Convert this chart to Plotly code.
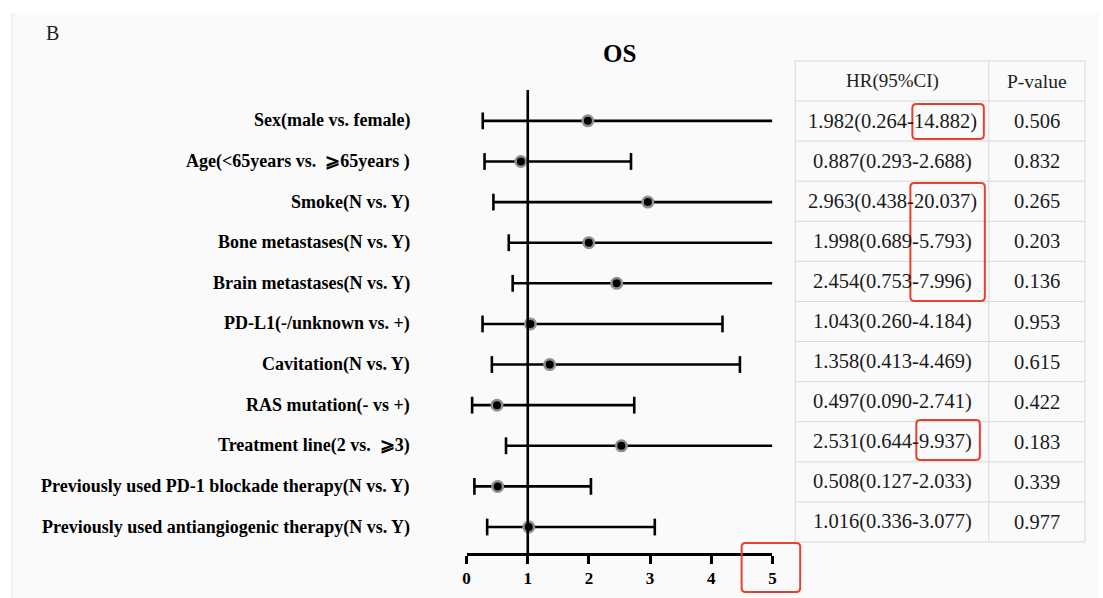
import plotly.graph_objects as go

# ---------------- data ----------------
labels = [
    "Sex(male vs. female)",
    "Age(<65years vs.  ⩾65years )",
    "Smoke(N vs. Y)",
    "Bone metastases(N vs. Y)",
    "Brain metastases(N vs. Y)",
    "PD-L1(-/unknown vs. +)",
    "Cavitation(N vs. Y)",
    "RAS mutation(- vs +)",
    "Treatment line(2 vs.  ⩾3)",
    "Previously used PD-1 blockade therapy(N vs. Y)",
    "Previously used antiangiogenic therapy(N vs. Y)",
]
hr = [1.982, 0.887, 2.963, 1.998, 2.454, 1.043, 1.358, 0.497, 2.531, 0.508, 1.016]
ci_low = [0.264, 0.293, 0.438, 0.689, 0.753, 0.260, 0.413, 0.090, 0.644, 0.127, 0.336]
ci_high = [14.882, 2.688, 20.037, 5.793, 7.996, 4.184, 4.469, 2.741, 9.937, 2.033, 3.077]
p_values = ["0.506", "0.832", "0.265", "0.203", "0.136", "0.953", "0.615", "0.422", "0.183", "0.339", "0.977"]
x_ticks = [0, 1, 2, 3, 4, 5]
title = "OS"
panel = "B"
table_headers = ["HR(95%CI)", "P-value"]

# ---------------- layout helpers ----------------
W, H = 1103, 598
XMAX = 5
SERIF = "Liberation Serif, Times New Roman, serif"


def px(x):
    return x / W


def py(y):
    return 1 - y / H


n = len(labels)
rows = list(range(n))

fig = go.Figure()

# CI lines (clipped at the axis maximum)
lx, ly = [], []
for i in rows:
    lx += [ci_low[i], min(ci_high[i], XMAX), None]
    ly += [i, i, None]
fig.add_trace(go.Scatter(x=lx, y=ly, mode="lines", line=dict(color="black", width=2.6),
                         cliponaxis=False, hoverinfo="skip", showlegend=False))

# caps
cx, cy = [], []
for i in rows:
    cx.append(ci_low[i]); cy.append(i)
    if ci_high[i] <= XMAX:
        cx.append(ci_high[i]); cy.append(i)
fig.add_trace(go.Scatter(x=cx, y=cy, mode="markers", cliponaxis=False,
                         marker=dict(symbol="line-ns", size=12, line=dict(color="black", width=2.6)),
                         hoverinfo="skip", showlegend=False))

# points
fig.add_trace(go.Scatter(x=hr, y=rows, mode="markers", cliponaxis=False,
                         marker=dict(symbol="circle", size=10.5, color="black",
                                     line=dict(color="#8f8f8f", width=2.5)),
                         showlegend=False))

shapes = []
# panel background
shapes.append(dict(type="rect", xref="paper", yref="paper", x0=px(8), x1=1, y0=0, y1=py(13),
                   fillcolor="#fafafa", line=dict(width=0), layer="below"))
shapes.append(dict(type="line", xref="paper", yref="paper", x0=px(8), x1=px(8), y0=0, y1=py(13),
                   line=dict(color="#e3e3e3", width=1), layer="below"))

# reference line at HR = 1
shapes.append(dict(type="line", xref="x", yref="y domain", x0=1, x1=1, y0=0, y1=1,
                   line=dict(color="black", width=2.6)))

# table grid
TX0, TX1, TX2 = 797, 992, 1089
TY0, THEAD = 61, 101
ROWH = (542 - THEAD) / n
TYEND = THEAD + ROWH * n
gc = "#d9d9d9"
for xx in (TX0, TX1, TX2):
    shapes.append(dict(type="line", xref="paper", yref="paper", x0=px(xx), x1=px(xx),
                       y0=py(TY0), y1=py(TYEND), line=dict(color=gc, width=1)))
hlines = [TY0, THEAD] + [THEAD + ROWH * (k + 1) for k in rows]
for yy in hlines:
    shapes.append(dict(type="line", xref="paper", yref="paper", x0=px(TX0), x1=px(TX2),
                       y0=py(yy), y1=py(yy), line=dict(color=gc, width=1)))


# red highlight boxes (rounded)
def rounded(x0, y0, x1, y1, r=4):
    pts = [("M", [(x0 + r, y0)]), ("L", [(x1 - r, y0)]), ("Q", [(x1, y0), (x1, y0 + r)]),
           ("L", [(x1, y1 - r)]), ("Q", [(x1, y1), (x1 - r, y1)]), ("L", [(x0 + r, y1)]),
           ("Q", [(x0, y1), (x0, y1 - r)]), ("L", [(x0, y0 + r)]), ("Q", [(x0, y0), (x0 + r, y0)])]
    s = ""
    for cmd, pp in pts:
        s += cmd + " " + " ".join(f"{px(a):.5f},{py(b):.5f}" for a, b in pp) + " "
    return s + "Z"


red_boxes = [(915, 104, 987, 139), (913, 183, 988, 301), (919, 420, 983, 460), (743, 543, 802, 592)]
for b in red_boxes:
    shapes.append(dict(type="path", xref="paper", yref="paper", path=rounded(*b),
                       line=dict(color="#e8402f", width=2)))

annotations = []


def ann(text, x, y, size, color="#1a1a1a", xanchor="center", yref="paper"):
    return dict(text=text, x=x, y=y, xref="paper", yref=yref, xanchor=xanchor, yanchor="middle",
                showarrow=False, font=dict(family=SERIF, size=size, color=color))


# panel letter
annotations.append(ann(panel, px(40), py(33), 20, "#222", "left"))
# title
annotations.append(ann(f"<b>{title}</b>", px(620), py(53), 25, "black"))
# row labels
for i in rows:
    annotations.append(ann(f"<b>{labels[i]}</b>", px(411), i, 18, "black", "right", "y"))
# table header
annotations.append(ann(table_headers[0], px((TX0 + TX1) / 2), py((TY0 + THEAD) / 2), 19, "#222"))
annotations.append(ann(table_headers[1], px((TX1 + TX2) / 2), py((TY0 + THEAD) / 2), 19.5, "#222"))
# table body
for i in rows:
    yc = THEAD + ROWH * (i + 0.5)
    txt = f"{hr[i]:.3f}({ci_low[i]:.3f}-{ci_high[i]:.3f})"
    annotations.append(ann(txt, px((TX0 + TX1) / 2), py(yc), 20.5))
    annotations.append(ann(p_values[i], px((TX1 + TX2) / 2), py(yc), 20.5))

fig.update_layout(
    width=W, height=H,
    margin=dict(l=0, r=0, t=0, b=0),
    paper_bgcolor="white",
    plot_bgcolor="rgba(0,0,0,0)",
    shapes=shapes,
    annotations=annotations,
    xaxis=dict(domain=[px(466), px(774)], range=[0, XMAX], tickvals=x_ticks,
               ticktext=[str(t) for t in x_ticks],
               showline=True, linecolor="black", linewidth=2.6,
               ticks="outside", ticklen=8, tickwidth=2.6, tickcolor="black",
               tickfont=dict(family=SERIF, size=17, color="black", weight="bold"),
               showgrid=False, zeroline=False, fixedrange=True),
    yaxis=dict(domain=[py(553), py(90)], range=[n - 1 + 0.64, -0.76], visible=False,
               showgrid=False, zeroline=False, fixedrange=True),
    showlegend=False,
)

fig.write_html("out.html", config={"displayModeBar": False},
               post_script="document.body.style.margin='0';document.body.style.overflow='hidden';")
